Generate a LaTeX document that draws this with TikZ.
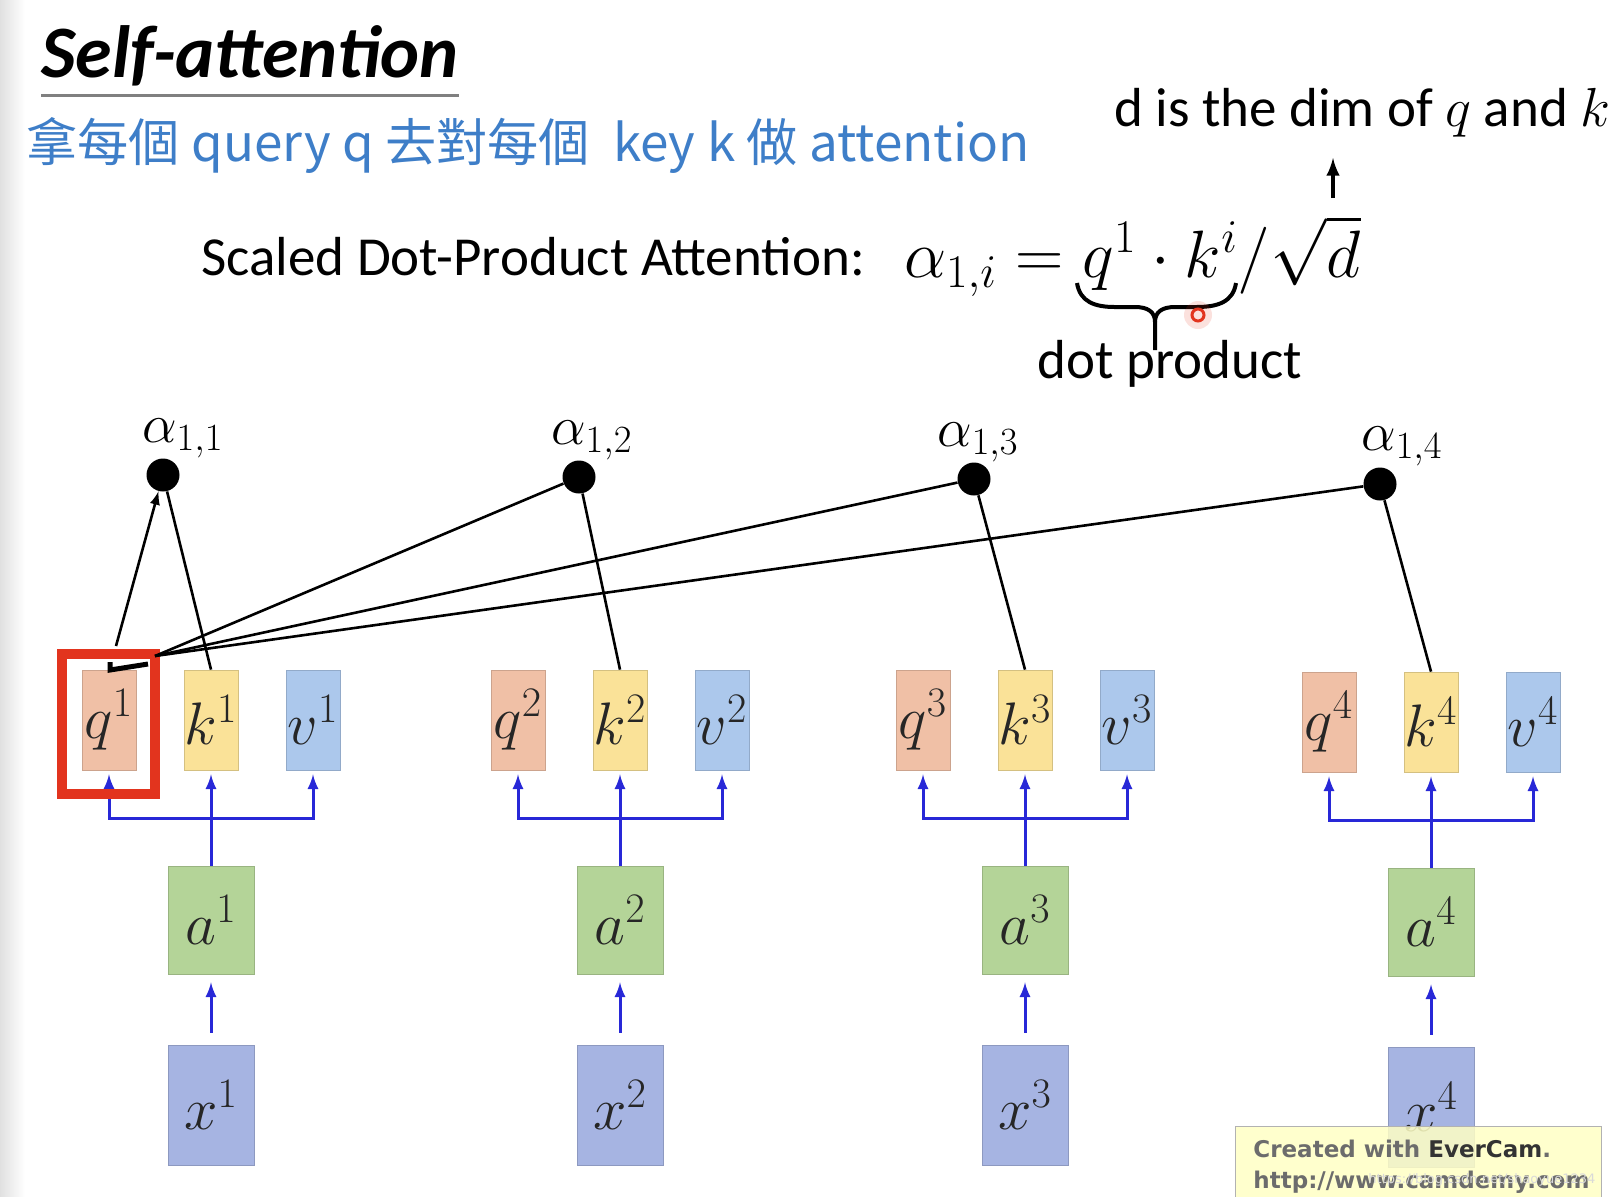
\RequirePackage{fix-cm}
\documentclass[tikz,border=0pt]{standalone}
\usepackage[no-math]{fontspec}
\setmainfont{Carlito}
\newfontfamily\cjk{Noto Sans CJK TC}
\newfontfamily\evfont{DejaVu Sans}
\usepackage{tikz}
\usetikzlibrary{positioning}
\definecolor{qcol}{RGB}{240,192,166}
\definecolor{kcol}{RGB}{250,226,152}
\definecolor{vcol}{RGB}{172,200,236}
\definecolor{acol}{RGB}{180,212,152}
\definecolor{xcol}{RGB}{166,180,226}
\definecolor{arrblue}{RGB}{40,40,215}
\definecolor{subblue}{RGB}{62,126,200}
\definecolor{hired}{RGB}{226,52,30}
\definecolor{evyellow}{RGB}{255,255,196}

\begin{document}
\begin{tikzpicture}[x=.5pt, y=-.5pt,
  box/.style={draw=#1!85!black, fill=#1, line width=.4pt, inner sep=0pt,
    minimum width=27pt, minimum height=50pt, text=black!85,
    font=\fontsize{30}{30}\selectfont},
  dot/.style={circle, fill=black, minimum size=16.5pt, inner sep=0pt},
  alab/.style={anchor=base, inner sep=0pt, font=\fontsize{27.5}{27.5}\selectfont},
  txt/.style={anchor=base west, inner sep=0pt, font=\fontsize{27.5}{27.5}\selectfont},
  blk/.style={line width=1.3pt},
  blu/.style={draw=arrblue, line width=1.5pt, -latex}]

\useasboundingbox (0,0) rectangle (1620,1196);
\shade[left color=black!12, right color=white] (0,0) rectangle (25,1196);

% heading
\node[anchor=base west, inner sep=0pt,
  font=\fontsize{37}{37}\selectfont\bfseries\itshape]
  (title) at (41,77) {Self-attention};
\draw[gray, line width=1.5pt]
  ([yshift=-9pt]title.base west) to ([yshift=-9pt]title.base east);

\node[anchor=west, inner sep=0pt, text=subblue,
  font=\cjk\fontsize{25.6}{25.6}\selectfont]
  (sub) at (26,145) {拿每個 query q 去對每個\ \ key k 做 attention};

\node[txt] (dimnote) at (1114,126) {d is the dim of $q$ and $k$};
\node[txt] (sdp) at (201,275) {Scaled Dot-Product Attention:};
\node[anchor=base west, inner sep=0pt, font=\fontsize{33.5}{33.5}\selectfont]
  (eq) at (904,277) {$\alpha_{1,i} = q^1\cdot k^i/\sqrt{d}$};

\coordinate (sqrtd) at (1333,198);
\coordinate (dtip) at (1333,158);
\draw[line width=2pt, -latex] (sqrtd) to (dtip);

% brace under the dot product
\draw[line width=2pt]
  (1077,283) .. controls (1080,302) and (1095,307) .. (1115,307)
    -- (1135,307) .. controls (1148,307) and (1155,312) .. (1155,322)
    -- (1155,350);
\draw[line width=2pt]
  (1236,283) .. controls (1233,302) and (1218,307) .. (1196,307)
    -- (1175,307) .. controls (1162,307) and (1155,312) .. (1155,322);
\node[txt, anchor=base] (dp) at (1170,378) {dot product};

% cursor
\fill[hired, opacity=.15] (1198,315) circle (7pt);
\draw[hired, line width=1.5pt] (1198,315) circle (3pt);

% alpha scores
\node[dot] (al1) at (163,475) {};
\node[dot] (al2) at (579,477) {};
\node[dot] (al3) at (974,479) {};
\node[dot] (al4) at (1380,484) {};
\node[alab] (t1) at (183,442) {$\alpha_{1,1}$};
\node[alab] (t2) at (592,444) {$\alpha_{1,2}$};
\node[alab] (t3) at (978,446) {$\alpha_{1,3}$};
\node[alab] (t4) at (1402,450) {$\alpha_{1,4}$};

\begin{scope}[shift={(211,0)}]
\node[box=qcol] (q1) at (-102,720) {$q^1$};
\node[box=kcol] (k1) at (0,720) {$k^1$};
\node[box=vcol] (v1) at (102,720) {$v^1$};
\node[box=acol, minimum width=43pt, minimum height=54pt] (a1) at (0,920) {$a^1$};
\node[box=xcol, minimum width=43pt, minimum height=60pt] (x1) at (0,1105) {$x^1$};
\coordinate (m1) at (0,818);
\draw[blu, shorten <=6pt, shorten >=4pt] (x1) to (a1);
\draw[blu, shorten >=2pt] (a1) to (k1);
\draw[blu, shorten >=2pt] (m1) -| (q1);
\draw[blu, shorten >=2pt] (m1) -| (v1);
\end{scope}

\begin{scope}[shift={(620,0)}]
\node[box=qcol] (q2) at (-102,720) {$q^2$};
\node[box=kcol] (k2) at (0,720) {$k^2$};
\node[box=vcol] (v2) at (102,720) {$v^2$};
\node[box=acol, minimum width=43pt, minimum height=54pt] (a2) at (0,920) {$a^2$};
\node[box=xcol, minimum width=43pt, minimum height=60pt] (x2) at (0,1105) {$x^2$};
\coordinate (m2) at (0,818);
\draw[blu, shorten <=6pt, shorten >=4pt] (x2) to (a2);
\draw[blu, shorten >=2pt] (a2) to (k2);
\draw[blu, shorten >=2pt] (m2) -| (q2);
\draw[blu, shorten >=2pt] (m2) -| (v2);
\end{scope}

\begin{scope}[shift={(1025,0)}]
\node[box=qcol] (q3) at (-102,720) {$q^3$};
\node[box=kcol] (k3) at (0,720) {$k^3$};
\node[box=vcol] (v3) at (102,720) {$v^3$};
\node[box=acol, minimum width=43pt, minimum height=54pt] (a3) at (0,920) {$a^3$};
\node[box=xcol, minimum width=43pt, minimum height=60pt] (x3) at (0,1105) {$x^3$};
\coordinate (m3) at (0,818);
\draw[blu, shorten <=6pt, shorten >=4pt] (x3) to (a3);
\draw[blu, shorten >=2pt] (a3) to (k3);
\draw[blu, shorten >=2pt] (m3) -| (q3);
\draw[blu, shorten >=2pt] (m3) -| (v3);
\end{scope}

\begin{scope}[shift={(1431,0)}]
\node[box=qcol] (q4) at (-102,722) {$q^4$};
\node[box=kcol] (k4) at (0,722) {$k^4$};
\node[box=vcol] (v4) at (102,722) {$v^4$};
\node[box=acol, minimum width=43pt, minimum height=54pt] (a4) at (0,922) {$a^4$};
\node[box=xcol, minimum width=43pt, minimum height=60pt] (x4) at (0,1107) {$x^4$};
\coordinate (m4) at (0,820);
\draw[blu, shorten <=6pt, shorten >=4pt] (x4) to (a4);
\draw[blu, shorten >=2pt] (a4) to (k4);
\draw[blu, shorten >=2pt] (m4) -| (q4);
\draw[blu, shorten >=2pt] (m4) -| (v4);
\end{scope}

% q^1 highlighted
\draw[hired, line width=5pt]
  ([shift={(-20,-16)}]q1.north west) rectangle ([shift={(19,24)}]q1.south east);

\coordinate (qtip) at (116,646);
\coordinate (qcorner) at (155,656);
\draw[blk, -latex] (qtip) to (al1);
\draw[blk] (k1.north) to (al1);
\draw[blk] (qcorner) to (al2);
\draw[blk] (qcorner) to (al3);
\draw[blk] (qcorner) to (al4);
\draw[blk] (k2.north) to (al2);
\draw[blk] (k3.north) to (al3);
\draw[blk] (k4.north) to (al4);
\draw[line width=2.5pt] (110,662) -- (110,670) -- (148,664);

% recorder stamp
\node[draw=gray!60, fill=evyellow, fill opacity=.85, anchor=north west,
  minimum width=183pt, minimum height=40pt, inner sep=0pt]
  (ever) at (1235,1126) {};
\node[anchor=base west, inner sep=0pt, text=gray!85!black,
  font=\evfont\bfseries\fontsize{11.5}{11.5}\selectfont]
  (evtxt) at (1253,1157) {Created with \textcolor{black!80}{EverCam}.};
\node[anchor=base west, inner sep=0pt, text=gray!85!black,
  font=\evfont\bfseries\fontsize{11.5}{11.5}\selectfont]
  (evurl) at (1253,1188) {http://www.camdemy.com};
\node[anchor=base west, inner sep=0pt, text=gray!30,
  font=\evfont\fontsize{6.5}{6.5}\selectfont]
  (wm) at (1368,1183) {https://blog.csdn.net/shaoyue1234};

\end{tikzpicture}
\end{document}
